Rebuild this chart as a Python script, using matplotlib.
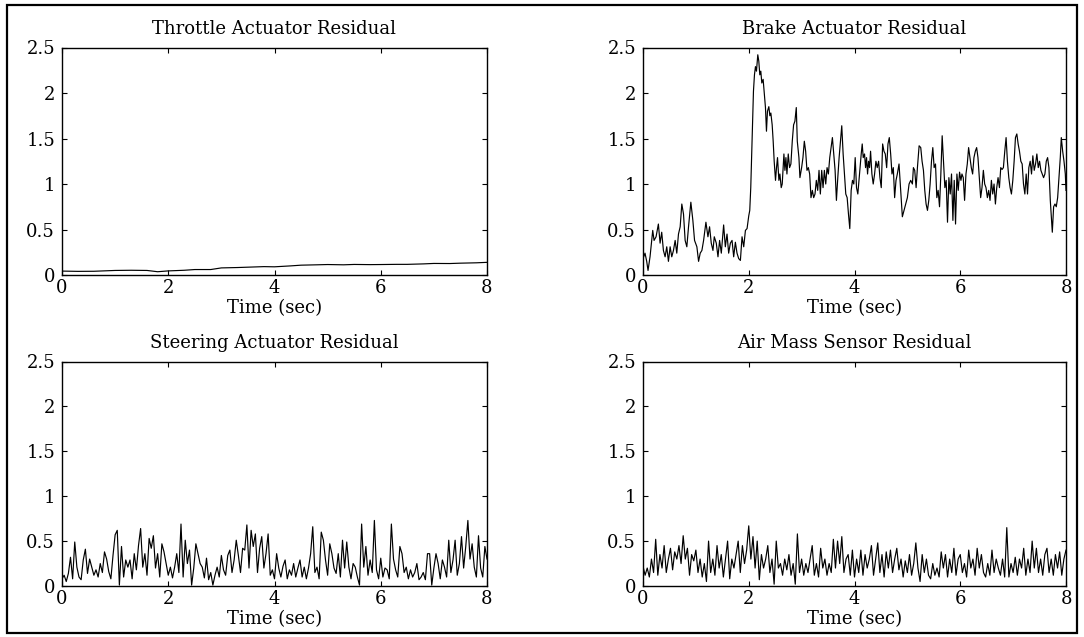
import numpy as np
import matplotlib
matplotlib.use("Agg")
import matplotlib.pyplot as plt
from matplotlib.patches import Rectangle

plt.rcParams['font.family'] = ['DejaVu Serif']

# ---------------- data ----------------
titles = ["Throttle Actuator Residual", "Brake Actuator Residual",
          "Steering Actuator Residual", "Air Mass Sensor Residual"]
xlabel_text = "Time (sec)"
xticks = [0, 2, 4, 6, 8]
yticks = [0, 0.5, 1, 1.5, 2, 2.5]
ytick_labels = ["0", "0.5", "1", "1.5", "2", "2.5"]

throttle_t = [0.0, 0.3, 0.6, 1.0, 1.3, 1.6, 1.8, 2.0, 2.3, 2.5, 2.8, 3.0, 3.3, 3.5,
              3.8, 4.0, 4.3, 4.5, 4.8, 5.0, 5.3, 5.5, 5.8, 6.0, 6.3, 6.5, 6.8, 7.0,
              7.3, 7.5, 7.8, 8.0]
throttle_v = [0.043, 0.040, 0.041, 0.050, 0.052, 0.050, 0.036, 0.045, 0.052, 0.060,
              0.060, 0.078, 0.082, 0.086, 0.092, 0.090, 0.100, 0.108, 0.112, 0.115,
              0.112, 0.116, 0.114, 0.115, 0.117, 0.117, 0.122, 0.127, 0.126, 0.130,
              0.134, 0.139]

brake_t = [0.0, 0.038, 0.070, 0.095, 0.133, 0.184, 0.209, 0.247, 0.291, 0.323,
           0.354, 0.386, 0.418, 0.449, 0.481, 0.513, 0.544, 0.576, 0.608, 0.639,
           0.671, 0.703, 0.734, 0.766, 0.797, 0.829, 0.861, 0.905, 0.943, 0.975,
           1.019, 1.051, 1.082, 1.114, 1.146, 1.190, 1.228, 1.259, 1.291, 1.323,
           1.348, 1.386, 1.418, 1.449, 1.481, 1.525, 1.557, 1.589, 1.620, 1.652,
           1.684, 1.715, 1.747, 1.778, 1.810, 1.842, 1.873, 1.905, 1.937, 1.968,
           2.000,
           2.019, 2.038, 2.063, 2.089, 2.108, 2.127, 2.146, 2.171, 2.190, 2.209,
           2.228, 2.247, 2.272, 2.291, 2.316, 2.335, 2.354, 2.380, 2.399, 2.418,
           2.443, 2.462, 2.481, 2.506, 2.525, 2.544, 2.570, 2.589, 2.614, 2.633,
           2.665, 2.684, 2.703, 2.722, 2.747, 2.772, 2.797, 2.823, 2.848, 2.873,
           2.899, 2.918, 2.949, 2.968, 3.000, 3.025, 3.051, 3.076, 3.101, 3.127,
           3.152, 3.177, 3.203, 3.228, 3.253, 3.278, 3.304, 3.329, 3.354, 3.380,
           3.405, 3.430, 3.456, 3.481, 3.506, 3.532, 3.557, 3.582, 3.608, 3.633,
           3.658, 3.684, 3.709, 3.734, 3.759, 3.785, 3.810, 3.835, 3.861, 3.886,
           3.911, 3.937, 3.962, 3.987, 4.013,
           4.038, 4.063, 4.095, 4.127, 4.146, 4.165, 4.190, 4.209, 4.228, 4.247,
           4.266, 4.285, 4.304, 4.329, 4.354, 4.380, 4.405, 4.430, 4.456, 4.481,
           4.506, 4.532, 4.557, 4.582, 4.608, 4.633, 4.658, 4.684, 4.709, 4.734,
           4.759, 4.785, 4.810, 4.842, 4.873, 4.905, 4.937, 4.968, 5.000, 5.032,
           5.063, 5.095, 5.114, 5.139, 5.165, 5.190, 5.222, 5.253, 5.278, 5.304,
           5.329, 5.354, 5.380, 5.405, 5.430, 5.456, 5.481, 5.506, 5.532, 5.557,
           5.582, 5.608, 5.633, 5.658, 5.684, 5.709, 5.734, 5.759, 5.785, 5.810,
           5.835, 5.861, 5.886, 5.911, 5.937, 5.962, 5.987, 6.013,
           6.032, 6.057, 6.082, 6.108, 6.133, 6.158, 6.184, 6.209, 6.234, 6.259,
           6.285, 6.310, 6.335, 6.361, 6.386, 6.411, 6.437, 6.462, 6.487, 6.513,
           6.538, 6.563, 6.589, 6.614, 6.639, 6.665, 6.690, 6.715, 6.741, 6.766,
           6.791, 6.816, 6.842, 6.867, 6.892, 6.918, 6.943, 6.968, 6.994, 7.019,
           7.044, 7.070, 7.095, 7.120, 7.146, 7.171, 7.196, 7.222, 7.247, 7.272,
           7.297, 7.323, 7.348, 7.373, 7.399, 7.424, 7.449, 7.475, 7.500, 7.525,
           7.551, 7.576, 7.601, 7.627, 7.652, 7.677, 7.703, 7.728, 7.741, 7.766,
           7.791, 7.816, 7.842, 7.867, 7.892, 7.911, 7.937, 7.962, 7.987, 8.000]
brake_v = [0.18, 0.24, 0.15, 0.05, 0.20, 0.49, 0.38, 0.42, 0.56, 0.35,
           0.47, 0.27, 0.20, 0.31, 0.15, 0.31, 0.20, 0.27, 0.38, 0.24,
           0.45, 0.53, 0.78, 0.67, 0.38, 0.31, 0.53, 0.80, 0.60, 0.38,
           0.31, 0.15, 0.24, 0.27, 0.38, 0.58, 0.42, 0.53, 0.35, 0.27,
           0.42, 0.35, 0.20, 0.38, 0.24, 0.55, 0.31, 0.45, 0.24, 0.35,
           0.38, 0.20, 0.36, 0.24, 0.18, 0.16, 0.42, 0.31, 0.49, 0.51,
           0.65,
           0.71, 0.96, 1.47, 2.02, 2.20, 2.29, 2.24, 2.42, 2.35, 2.20,
           2.24, 2.11, 2.15, 2.02, 1.84, 1.58, 1.80, 1.85, 1.75, 1.78,
           1.65, 1.47, 1.25, 1.04, 1.18, 1.29, 1.04, 1.11, 0.96, 1.00,
           1.33, 1.15, 1.29, 1.11, 1.33, 1.18, 1.22, 1.47, 1.65, 1.69,
           1.84, 1.47, 1.29, 1.07, 1.18, 1.29, 1.47, 1.36, 1.15, 1.18,
           1.11, 0.85, 0.93, 0.85, 0.89, 1.04, 0.93, 1.15, 0.89, 1.15,
           0.96, 1.15, 1.00, 1.18, 1.11, 1.29, 1.40, 1.51, 1.33, 1.15,
           0.82, 1.07, 1.29, 1.47, 1.64, 1.33, 1.11, 0.89, 0.85, 0.67,
           0.51, 0.93, 1.04, 1.00, 1.29,
           0.96, 0.89, 1.11, 1.33, 1.44, 1.29, 1.33, 1.18, 1.29, 1.11,
           1.25, 1.18, 1.36, 1.11, 1.00, 1.11, 1.25, 1.18, 1.25, 1.07,
           0.96, 1.44, 1.36, 1.33, 1.18, 1.44, 1.51, 1.33, 1.11, 1.18,
           0.85, 1.04, 1.11, 1.22, 0.93, 0.64, 0.71, 0.78, 0.85, 1.00,
           1.04, 1.00, 1.18, 1.15, 0.96, 1.18, 1.42, 1.40, 1.25, 1.15,
           0.93, 0.78, 0.71, 0.82, 1.00, 1.25, 1.40, 1.18, 1.22, 0.85,
           0.93, 0.75, 1.11, 1.53, 1.25, 0.96, 1.04, 0.58, 1.07, 0.89,
           1.11, 0.60, 1.04, 0.56, 1.11, 0.93, 1.13, 1.04,
           1.11, 1.07, 0.82, 1.11, 1.22, 1.40, 1.29, 1.18, 1.11, 1.29,
           1.36, 1.40, 1.29, 1.07, 0.85, 0.96, 1.15, 1.00, 0.96, 0.85,
           0.93, 0.82, 1.04, 0.89, 1.00, 0.78, 0.96, 1.07, 0.96, 1.18,
           1.16, 1.18, 1.36, 1.51, 1.25, 1.07, 0.96, 0.89, 1.04, 1.25,
           1.51, 1.55, 1.44, 1.36, 1.25, 1.22, 1.00, 0.89, 1.11, 0.89,
           1.18, 1.25, 1.11, 1.31, 1.15, 1.22, 1.33, 1.18, 1.25, 1.15,
           1.11, 1.07, 1.11, 1.25, 1.29, 1.18, 0.82, 0.60, 0.47, 0.75,
           0.78, 0.75, 0.85, 1.07, 1.29, 1.51, 1.36, 1.25, 1.11, 0.93]

# sampled every 0.04 s from 0 to 8 s
steering_v = [0.08, 0.12, 0.05, 0.14, 0.32, 0.08, 0.49, 0.21, 0.10, 0.07,
              0.29, 0.41, 0.14, 0.30, 0.21, 0.12, 0.18, 0.10, 0.25, 0.15,
              0.38, 0.30, 0.16, 0.08, 0.34, 0.57, 0.62, 0.01, 0.44, 0.10,
              0.29, 0.21, 0.29, 0.08, 0.36, 0.18, 0.45, 0.64, 0.21, 0.36,
              0.12, 0.53, 0.42, 0.56, 0.20, 0.36, 0.10, 0.47, 0.38, 0.25,
              0.12, 0.21, 0.09, 0.21, 0.36, 0.15, 0.69, 0.10, 0.51, 0.25,
              0.40, 0.01, 0.20, 0.47, 0.36, 0.25, 0.21, 0.09, 0.31, 0.07,
              0.15, 0.01, 0.12, 0.21, 0.10, 0.34, 0.18, 0.12, 0.34, 0.40,
              0.15, 0.29, 0.51, 0.34, 0.15, 0.42, 0.40, 0.68, 0.20, 0.62,
              0.44, 0.58, 0.15, 0.42, 0.55, 0.20, 0.36, 0.58, 0.12, 0.18,
              0.08, 0.36, 0.20, 0.10, 0.22, 0.29, 0.08, 0.18, 0.12, 0.25,
              0.10, 0.20, 0.29, 0.10, 0.21, 0.08, 0.20, 0.36, 0.66, 0.15,
              0.21, 0.08, 0.60, 0.51, 0.29, 0.12, 0.47, 0.36, 0.20, 0.14,
              0.36, 0.10, 0.51, 0.20, 0.49, 0.21, 0.08, 0.25, 0.21, 0.10,
              0.01, 0.69, 0.21, 0.44, 0.12, 0.29, 0.15, 0.73, 0.18, 0.08,
              0.31, 0.10, 0.20, 0.18, 0.08, 0.69, 0.30, 0.18, 0.10, 0.44,
              0.36, 0.15, 0.21, 0.08, 0.18, 0.10, 0.15, 0.25, 0.07, 0.10,
              0.15, 0.07, 0.36, 0.36, 0.01, 0.20, 0.36, 0.25, 0.08, 0.29,
              0.21, 0.10, 0.51, 0.15, 0.29, 0.51, 0.12, 0.25, 0.55, 0.20,
              0.44, 0.73, 0.30, 0.47, 0.21, 0.10, 0.56, 0.20, 0.10, 0.44,
              0.30]

# sampled every 0.04 s from 0 to 8 s
airmass_v = [0.22, 0.12, 0.20, 0.10, 0.30, 0.15, 0.52, 0.12, 0.35, 0.20,
             0.45, 0.15, 0.30, 0.42, 0.18, 0.38, 0.30, 0.45, 0.25, 0.56,
             0.30, 0.42, 0.12, 0.35, 0.28, 0.40, 0.15, 0.30, 0.10, 0.25,
             0.05, 0.50, 0.15, 0.30, 0.12, 0.45, 0.20, 0.35, 0.10, 0.30,
             0.50, 0.08, 0.30, 0.20, 0.35, 0.50, 0.15, 0.45, 0.25, 0.40,
             0.67, 0.30, 0.55, 0.20, 0.50, 0.07, 0.35, 0.20, 0.30, 0.45,
             0.15, 0.30, 0.02, 0.50, 0.20, 0.25, 0.12, 0.30, 0.18, 0.35,
             0.12, 0.25, 0.02, 0.58, 0.15, 0.30, 0.12, 0.25, 0.15, 0.30,
             0.45, 0.12, 0.25, 0.10, 0.42, 0.20, 0.30, 0.12, 0.25, 0.15,
             0.52, 0.20, 0.50, 0.25, 0.55, 0.15, 0.30, 0.35, 0.12, 0.40,
             0.10, 0.30, 0.15, 0.40, 0.12, 0.35, 0.20, 0.30, 0.45, 0.12,
             0.30, 0.48, 0.15, 0.35, 0.10, 0.38, 0.20, 0.40, 0.15, 0.30,
             0.42, 0.18, 0.30, 0.10, 0.28, 0.15, 0.35, 0.12, 0.25, 0.48,
             0.20, 0.05, 0.35, 0.15, 0.30, 0.12, 0.08, 0.25, 0.12, 0.20,
             0.10, 0.38, 0.20, 0.35, 0.10, 0.30, 0.15, 0.42, 0.12, 0.30,
             0.35, 0.15, 0.25, 0.10, 0.40, 0.20, 0.30, 0.12, 0.42, 0.20,
             0.35, 0.15, 0.10, 0.25, 0.12, 0.40, 0.15, 0.30, 0.20, 0.12,
             0.30, 0.10, 0.65, 0.10, 0.25, 0.15, 0.32, 0.12, 0.30, 0.20,
             0.42, 0.12, 0.30, 0.15, 0.50, 0.20, 0.42, 0.15, 0.30, 0.12,
             0.35, 0.42, 0.15, 0.30, 0.12, 0.35, 0.20, 0.38, 0.12, 0.30,
             0.40]

# ---------------- figure ----------------
W, H = 1084, 637
fig = plt.figure(figsize=(W / 100, H / 100), dpi=100)

def fx(px):
    return px / W

def fy(py):
    return 1 - py / H

ax_rects = [
    (fx(62), fy(275), fx(487) - fx(62), fy(47.5) - fy(275)),
    (fx(643), fy(275), fx(1066) - fx(643), fy(47.5) - fy(275)),
    (fx(62), fy(586), fx(487) - fx(62), fy(361.5) - fy(586)),
    (fx(643), fy(586), fx(1066) - fx(643), fy(361.5) - fy(586)),
]

t_grid_s = np.linspace(0, 8, len(steering_v))
t_grid_a = np.linspace(0, 8, len(airmass_v))
series = [(throttle_t, throttle_v), (brake_t, brake_v),
          (t_grid_s, steering_v), (t_grid_a, airmass_v)]

FS = 13
for rect, title, (tx, vy) in zip(ax_rects, titles, series):
    ax = fig.add_axes(rect)
    ax.plot(tx, vy, color='black', linewidth=0.85)
    ax.set_xlim(0, 8)
    ax.set_ylim(0, 2.5)
    ax.set_xticks(xticks)
    ax.set_xticklabels([str(v) for v in xticks], fontsize=FS)
    ax.set_yticks(yticks)
    ax.set_yticklabels(ytick_labels, fontsize=FS)
    ax.tick_params(direction='in', length=3.5, width=0.8, top=True, right=True,
                   pad=5)
    ax.tick_params(axis='x', pad=3)
    ax.set_title(title, fontsize=FS, pad=9.5)
    ax.set_xlabel(xlabel_text, fontsize=FS, labelpad=1.5)
    for sp in ax.spines.values():
        sp.set_linewidth(1.0)

fig.patches.append(Rectangle((fx(7), fy(633)), fx(1077) - fx(7), fy(5) - fy(633),
                             transform=fig.transFigure, fill=False,
                             edgecolor='black', linewidth=1.6))

fig.savefig("out.png", dpi=100)
